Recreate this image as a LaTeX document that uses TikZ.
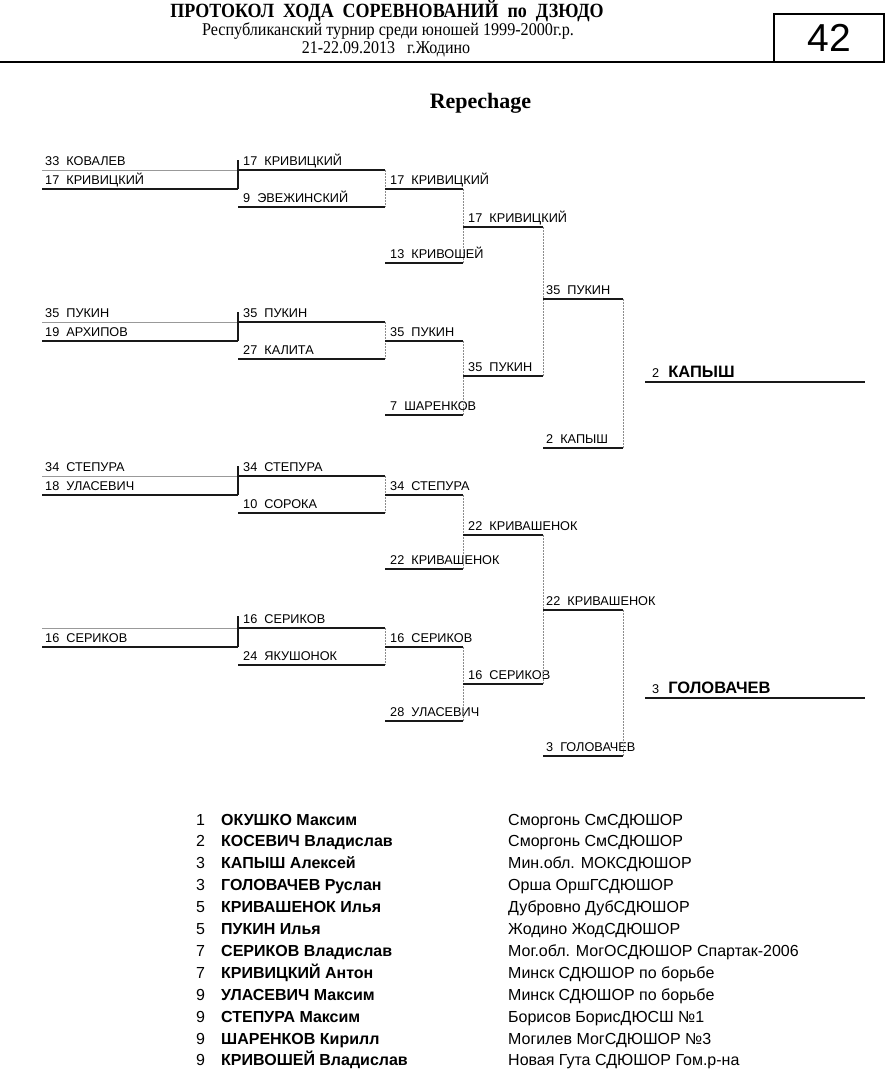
\documentclass[tikz,border=0pt]{standalone}
\usepackage{fontspec}
\setmainfont{Liberation Sans}
\newfontfamily\hdrfont{Liberation Serif}
\newcommand\bentry[7]{%
  \coordinate (#1-l) at (#2,#4);
  \coordinate (#1-r) at (#3,#4);
  \draw[#5] (#1-l) -- (#1-r);
  \node[lbl] (#1) at (#2+#7,#4-4.5) {#6};
}
\tikzset{
  lbl/.style={anchor=base west, inner sep=0pt, font=\fontsize{12.7}{14}\selectfont},
  thk/.style={line width=2pt, black!90},
  thn/.style={line width=1pt, black!40},
  dot/.style={line width=0.8pt, black!45, dash pattern=on 1.5pt off 1.5pt},
  fin/.style={anchor=base west, inner sep=0pt},
  lst/.style={anchor=base west, inner sep=0pt, font=\fontsize{16}{18}\selectfont},
}
\begin{document}
\begin{tikzpicture}[x=1pt,y=-1pt]
\useasboundingbox (0,0) rectangle (886,1074);
% header
\node[anchor=base, inner sep=0pt, font=\hdrfont\bfseries\fontsize{18}{20}\selectfont] (title) at (387,17.5) {\scalebox{1}[1.12]{ПРОТОКОЛ~~ХОДА~~СОРЕВНОВАНИЙ~~по~~ДЗЮДО}};
\node[anchor=base, inner sep=0pt, font=\hdrfont\fontsize{16}{18}\selectfont] (sub1) at (388,35.5) {\scalebox{1.01}[1.12]{Республиканский турнир среди юношей 1999-2000г.р.}};
\node[anchor=base, inner sep=0pt, font=\hdrfont\fontsize{16}{18}\selectfont] (sub2) at (386,53.5) {\scalebox{1}[1.12]{21-22.09.2013~~~г.Жодино}};
\coordinate (rule-l) at (0,62);
\coordinate (rule-r) at (774,62);
\draw[line width=2pt] (rule-l) -- (rule-r);
\node[draw, line width=2.5pt, minimum width=110pt, minimum height=48pt, inner sep=0pt, font=\fontsize{39}{40}\selectfont] (pg) at (829,38) {42};
\node[anchor=base, inner sep=0pt, font=\hdrfont\bfseries\fontsize{22}{24}\selectfont] (rep) at (480.5,108) {Repechage};
% group 1
\bentry{a1}{42}{238}{170}{thn}{33~~КОВАЛЕВ}{3}
\bentry{a2}{42}{238}{189}{thk}{17~~КРИВИЦКИЙ}{3}
\coordinate (va1) at (238,160);
\draw[thk] (va1) -- (a2-r);
\bentry{b1}{238}{385}{170}{thk}{17~~КРИВИЦКИЙ}{5}
\bentry{b2}{238}{385}{207}{thk}{9~~ЭВЕЖИНСКИЙ}{5}
\draw[dot] (b1-r) -- (b2-r);
\bentry{c1}{385}{463}{189}{thk}{17~~КРИВИЦКИЙ}{5}
\bentry{c2}{385}{463}{263}{thk}{13~~КРИВОШЕЙ}{5}
\draw[dot] (c1-r) -- (c2-r);
\bentry{d1}{463}{543}{227}{thk}{17~~КРИВИЦКИЙ}{5}
% group 2
\bentry{a3}{42}{238}{322}{thn}{35~~ПУКИН}{3}
\bentry{a4}{42}{238}{341}{thk}{19~~АРХИПОВ}{3}
\coordinate (va2) at (238,312);
\draw[thk] (va2) -- (a4-r);
\bentry{b3}{238}{385}{322}{thk}{35~~ПУКИН}{5}
\bentry{b4}{238}{385}{359}{thk}{27~~КАЛИТА}{5}
\draw[dot] (b3-r) -- (b4-r);
\bentry{c3}{385}{463}{341}{thk}{35~~ПУКИН}{5}
\bentry{c4}{385}{463}{415}{thk}{7~~ШАРЕНКОВ}{5}
\draw[dot] (c3-r) -- (c4-r);
\bentry{d2}{463}{543}{376}{thk}{35~~ПУКИН}{5}
\draw[dot] (d1-r) -- (d2-r);
\bentry{e1}{543}{623}{299}{thk}{35~~ПУКИН}{3}
\bentry{e2}{543}{623}{448}{thk}{2~~КАПЫШ}{3}
\draw[dot] (e1-r) -- (e2-r);
\coordinate (f1-l) at (645,382);
\coordinate (f1-r) at (865,382);
\draw[thk] (f1-l) -- (f1-r);
\node[fin] (f1) at (652,377) {{\fontsize{12.7}{14}\selectfont 2}\hspace{9pt}{\bfseries\fontsize{16.5}{18}\selectfont КАПЫШ}};
% group 3
\bentry{a5}{42}{238}{476}{thn}{34~~СТЕПУРА}{3}
\bentry{a6}{42}{238}{495}{thk}{18~~УЛАСЕВИЧ}{3}
\coordinate (va3) at (238,466);
\draw[thk] (va3) -- (a6-r);
\bentry{b5}{238}{385}{476}{thk}{34~~СТЕПУРА}{5}
\bentry{b6}{238}{385}{513}{thk}{10~~СОРОКА}{5}
\draw[dot] (b5-r) -- (b6-r);
\bentry{c5}{385}{463}{495}{thk}{34~~СТЕПУРА}{5}
\bentry{c6}{385}{463}{569}{thk}{22~~КРИВАШЕНОК}{5}
\draw[dot] (c5-r) -- (c6-r);
\bentry{d3}{463}{543}{535}{thk}{22~~КРИВАШЕНОК}{5}
% group 4
\bentry{a7}{42}{238}{628}{thn}{}{3}
\bentry{a8}{42}{238}{647}{thk}{16~~СЕРИКОВ}{3}
\coordinate (va4) at (238,616);
\draw[thk] (va4) -- (a8-r);
\bentry{b7}{238}{385}{628}{thk}{16~~СЕРИКОВ}{5}
\bentry{b8}{238}{385}{665}{thk}{24~~ЯКУШОНОК}{5}
\draw[dot] (b7-r) -- (b8-r);
\bentry{c7}{385}{463}{647}{thk}{16~~СЕРИКОВ}{5}
\bentry{c8}{385}{463}{721}{thk}{28~~УЛАСЕВИЧ}{5}
\draw[dot] (c7-r) -- (c8-r);
\bentry{d4}{463}{543}{684}{thk}{16~~СЕРИКОВ}{5}
\draw[dot] (d3-r) -- (d4-r);
\bentry{e3}{543}{623}{610}{thk}{22~~КРИВАШЕНОК}{3}
\bentry{e4}{543}{623}{756}{thk}{3~~ГОЛОВАЧЕВ}{3}
\draw[dot] (e3-r) -- (e4-r);
\coordinate (f2-l) at (645,698);
\coordinate (f2-r) at (865,698);
\draw[thk] (f2-l) -- (f2-r);
\node[fin] (f2) at (652,693) {{\fontsize{12.7}{14}\selectfont 3}\hspace{9pt}{\bfseries\fontsize{16.5}{18}\selectfont ГОЛОВАЧЕВ}};
% results
\foreach \rk/\nm/\cl [count=\i] in {
 1/ОКУШКО Максим/Сморгонь СмСДЮШОР,
 2/КОСЕВИЧ Владислав/Сморгонь СмСДЮШОР,
 3/КАПЫШ Алексей/Мин.обл. МОКСДЮШОР,
 3/ГОЛОВАЧЕВ Руслан/Орша ОршГСДЮШОР,
 5/КРИВАШЕНОК Илья/Дубровно ДубСДЮШОР,
 5/ПУКИН Илья/Жодино ЖодСДЮШОР,
 7/СЕРИКОВ Владислав/Мог.обл. МогОСДЮШОР Спартак-2006,
 7/КРИВИЦКИЙ Антон/Минск СДЮШОР по борьбе,
 9/УЛАСЕВИЧ Максим/Минск СДЮШОР по борьбе,
 9/СТЕПУРА Максим/Борисов БорисДЮСШ №1,
 9/ШАРЕНКОВ Кирилл/Могилев МогСДЮШОР №3,
 9/КРИВОШЕЙ Владислав/Новая Гута СДЮШОР Гом.р-на}{
  \node[lst] (rk\i) at (196,825+21.9*\i-21.9) {\rk};
  \node[lst, font=\bfseries\fontsize{16}{18}\selectfont] (nm\i) at (221,825+21.9*\i-21.9) {\nm};
  \node[lst] (cl\i) at (508,825+21.9*\i-21.9) {\cl};
}
\end{tikzpicture}
\end{document}
